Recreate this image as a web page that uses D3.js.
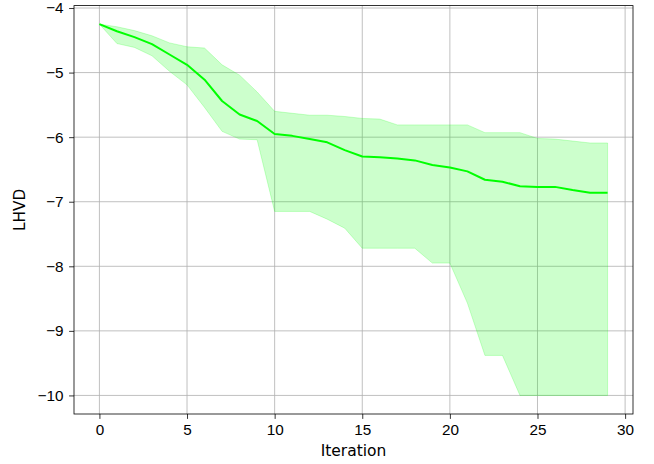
<!DOCTYPE html>
<html lang="en">
<head>
<meta charset="UTF-8">
<title>LHVD by Iteration</title>
<script src="https://d3js.org/d3.v7.min.js"></script>
<style>
  body { margin: 0; background: #fff; }
  svg { display: block; font-family: 'DejaVu Sans', sans-serif; }
  .tick text { font-size: 15.3px; fill: #000; }
  .grid line { stroke: #b0b0b0; stroke-width: 0.8; }
</style>
</head>
<body>
<svg width="654" height="464"></svg>
<script>
// mean LHVD per iteration, plus min / max across runs
const iterations = d3.range(0, 30);
const meanVals = [-4.25, -4.36, -4.45, -4.56, -4.72, -4.88, -5.11, -5.44, -5.65, -5.75,
                  -5.95, -5.98, -6.03, -6.08, -6.20, -6.30, -6.31, -6.33, -6.36, -6.43,
                  -6.47, -6.53, -6.66, -6.69, -6.76, -6.77, -6.77, -6.82, -6.86, -6.86];
const upperVals = [-4.25, -4.29, -4.35, -4.43, -4.54, -4.60, -4.62, -4.88, -5.04, -5.30,
                   -5.60, -5.63, -5.66, -5.66, -5.68, -5.71, -5.72, -5.81, -5.81, -5.81,
                   -5.81, -5.81, -5.93, -5.93, -5.93, -6.02, -6.03, -6.06, -6.09, -6.09];
const lowerVals = [-4.25, -4.55, -4.61, -4.74, -4.98, -5.19, -5.54, -5.91, -6.03, -6.04,
                   -7.15, -7.15, -7.15, -7.27, -7.41, -7.72, -7.72, -7.72, -7.72, -7.95,
                   -7.95, -8.57, -9.38, -9.38, -10.0, -10.0, -10.0, -10.0, -10.0, -10.0];
const xTicks = [0, 5, 10, 15, 20, 25, 30];
const yTicks = [-4, -5, -6, -7, -8, -9, -10];

const data = iterations.map((it, i) => ({ it, mean: meanVals[i], lo: lowerVals[i], hi: upperVals[i] }));

const margin = { top: 5.6, right: 21, bottom: 50, left: 74 },
    width = 654 - margin.left - margin.right,
    height = 464 - margin.top - margin.bottom;

const svg = d3.select("svg");
const g = svg.append("g").attr("transform", `translate(${margin.left},${margin.top})`);

// matplotlib-style 5% margins
const x = d3.scaleLinear().domain([-1.45, 30.45]).range([0, width]);
const y = d3.scaleLinear().domain([-10.2875, -3.9625]).range([height, 0]);

const fmt = d => String(d).replace("-", "\u2212");

// grid
g.append("g").attr("class", "grid")
  .selectAll("line").data(xTicks).join("line")
  .attr("x1", d => x(d)).attr("x2", d => x(d))
  .attr("y1", 0).attr("y2", height);
g.append("g").attr("class", "grid")
  .selectAll("line").data(yTicks).join("line")
  .attr("x1", 0).attr("x2", width)
  .attr("y1", d => y(d)).attr("y2", d => y(d));

// band
g.append("path")
  .datum(data)
  .attr("fill", "#00ff00")
  .attr("fill-opacity", 0.2)
  .attr("stroke", "#00ff00")
  .attr("stroke-opacity", 0.2)
  .attr("stroke-width", 1)
  .attr("d", d3.area().x(d => x(d.it)).y0(d => y(d.lo)).y1(d => y(d.hi)));

// mean line
g.append("path")
  .datum(data)
  .attr("fill", "none")
  .attr("stroke", "#00ff00")
  .attr("stroke-width", 2)
  .attr("stroke-linejoin", "round")
  .attr("d", d3.line().x(d => x(d.it)).y(d => y(d.mean)));

// axes
const xAxis = g.append("g")
  .attr("transform", `translate(0,${height})`)
  .call(d3.axisBottom(x).tickValues(xTicks).tickFormat(fmt).tickSize(4.9).tickPadding(4.9));
const yAxis = g.append("g")
  .call(d3.axisLeft(y).tickValues(yTicks).tickFormat(fmt).tickSize(4.9).tickPadding(5.5));
[xAxis, yAxis].forEach(a => {
  a.select(".domain").remove();
  a.selectAll(".tick line").attr("stroke", "#000").attr("stroke-width", 0.8);
});

// frame
g.append("rect")
  .attr("width", width).attr("height", height)
  .attr("fill", "none").attr("stroke", "#000").attr("stroke-width", 0.8);

// labels
svg.append("text")
  .attr("x", margin.left + width / 2)
  .attr("y", 456)
  .attr("text-anchor", "middle")
  .style("font-size", "15.5px")
  .text("Iteration");
svg.append("text")
  .attr("transform", `translate(24.5,${margin.top + height / 2}) rotate(-90)`)
  .attr("text-anchor", "middle")
  .style("font-size", "15.3px")
  .text("LHVD");
</script>
</body>
</html>
